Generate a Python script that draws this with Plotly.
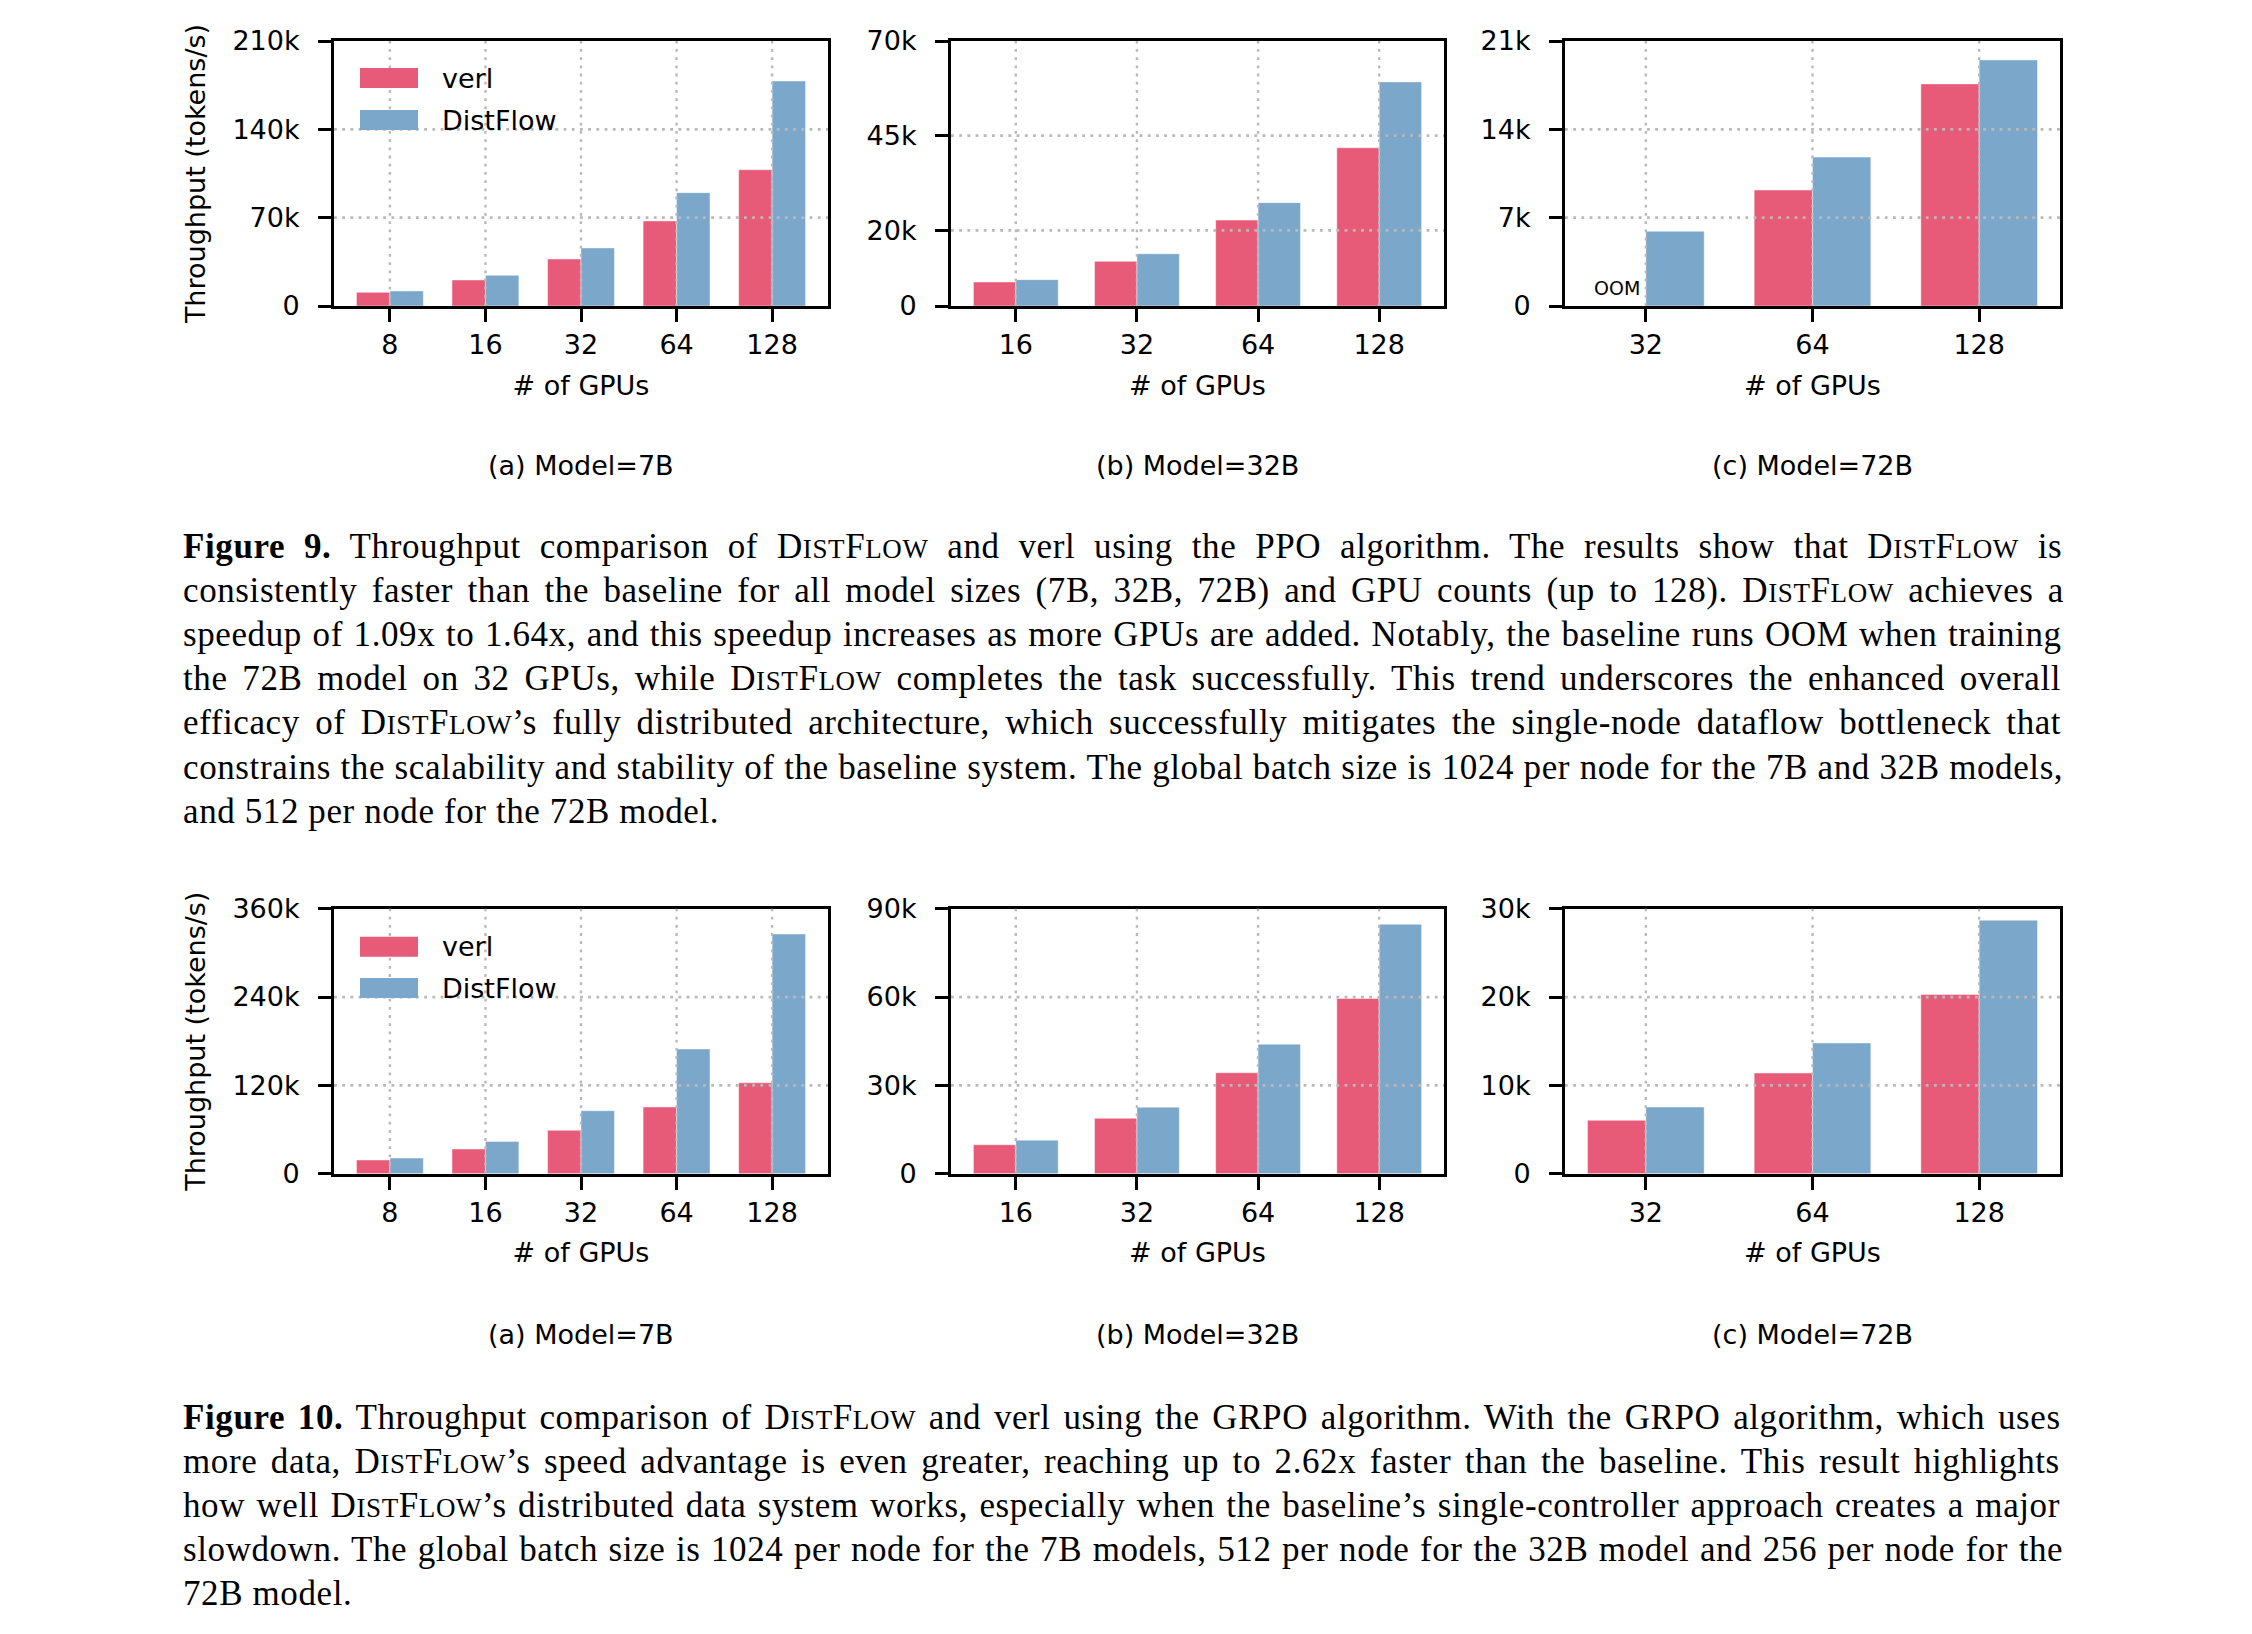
import plotly.graph_objects as go
from plotly.subplots import make_subplots

W, H = 2252, 1634
OFF = 8                      # browser body margin
FW, FH = W - 2 * OFF, H - 2 * OFF

# ---------------- data ----------------
gpus_7b = ["8", "16", "32", "64", "128"]
gpus_32b = ["16", "32", "64", "128"]
gpus_72b = ["32", "64", "128"]

ppo_7b_verl = [10800, 20600, 37200, 67400, 108000]
ppo_7b_distflow = [11900, 24300, 46000, 89800, 178300]
ppo_32b_verl = [6340, 11800, 22700, 41800]
ppo_32b_distflow = [6960, 13800, 27300, 59200]
ppo_72b_verl = [None, 9190, 17600]          # verl runs OOM on 32 GPUs
ppo_72b_distflow = [5920, 11800, 19500]

grpo_7b_verl = [18600, 33500, 58900, 90600, 123600]
grpo_7b_distflow = [21300, 43900, 85600, 169400, 325600]
grpo_32b_verl = [9850, 18800, 34300, 59500]
grpo_32b_distflow = [11400, 22600, 44000, 84700]
grpo_72b_verl = [6040, 11400, 20300]
grpo_72b_distflow = [7550, 14800, 28700]

ppo_7b_ticks = [0, 70000, 140000, 210000]
ppo_7b_ticktext = ["0", "70k", "140k", "210k"]
ppo_32b_ticks = [0, 20000, 45000, 70000]
ppo_32b_ticktext = ["0", "20k", "45k", "70k"]
ppo_72b_ticks = [0, 7000, 14000, 21000]
ppo_72b_ticktext = ["0", "7k", "14k", "21k"]
grpo_7b_ticks = [0, 120000, 240000, 360000]
grpo_7b_ticktext = ["0", "120k", "240k", "360k"]
grpo_32b_ticks = [0, 30000, 60000, 90000]
grpo_32b_ticktext = ["0", "30k", "60k", "90k"]
grpo_72b_ticks = [0, 10000, 20000, 30000]
grpo_72b_ticktext = ["0", "10k", "20k", "30k"]

subcaptions = ["(a) Model=7B", "(b) Model=32B", "(c) Model=72B"]
series_names = ["verl", "DistFlow"]

fig9_lines = [
    "**Figure 9.** Throughput comparison of DistFlow and verl using the PPO algorithm. The results show that DistFlow is",
    "consistently faster than the baseline for all model sizes (7B, 32B, 72B) and GPU counts (up to 128). DistFlow achieves a",
    "speedup of 1.09x to 1.64x, and this speedup increases as more GPUs are added. Notably, the baseline runs OOM when training",
    "the 72B model on 32 GPUs, while DistFlow completes the task successfully. This trend underscores the enhanced overall",
    "efficacy of DistFlow\u2019s fully distributed architecture, which successfully mitigates the single-node dataflow bottleneck that",
    "constrains the scalability and stability of the baseline system. The global batch size is 1024 per node for the 7B and 32B models,",
    "and 512 per node for the 72B model.",
]
fig10_lines = [
    "**Figure 10.** Throughput comparison of DistFlow and verl using the GRPO algorithm. With the GRPO algorithm, which uses",
    "more data, DistFlow\u2019s speed advantage is even greater, reaching up to 2.62x faster than the baseline. This result highlights",
    "how well DistFlow\u2019s distributed data system works, especially when the baseline\u2019s single-controller approach creates a major",
    "slowdown. The global batch size is 1024 per node for the 7B models, 512 per node for the 32B model and 256 per node for the",
    "72B model.",
]

# ---------------- style ----------------
VERL = "#E75A78"
DIST = "#7BA7CB"
GRID = "#b9b9b9"
GRID_DASH = "2.8px,5.4px"
SANS = "DejaVu Sans"
SERIF = "Liberation Serif"
FS = 27


def px(x):
    return (x - OFF) / FW


def py(y):
    return 1 - (y - OFF) / FH


panels = [
    (1, 1, gpus_7b, ppo_7b_verl, ppo_7b_distflow, ppo_7b_ticks, ppo_7b_ticktext),
    (1, 2, gpus_32b, ppo_32b_verl, ppo_32b_distflow, ppo_32b_ticks, ppo_32b_ticktext),
    (1, 3, gpus_72b, ppo_72b_verl, ppo_72b_distflow, ppo_72b_ticks, ppo_72b_ticktext),
    (2, 1, gpus_7b, grpo_7b_verl, grpo_7b_distflow, grpo_7b_ticks, grpo_7b_ticktext),
    (2, 2, gpus_32b, grpo_32b_verl, grpo_32b_distflow, grpo_32b_ticks, grpo_32b_ticktext),
    (2, 3, gpus_72b, grpo_72b_verl, grpo_72b_distflow, grpo_72b_ticks, grpo_72b_ticktext),
]

x_dom_px = [(334, 828), (951, 1444), (1565, 2060)]
y_dom_px = [(41, 306), (908.7, 1173.7)]

fig = make_subplots(rows=2, cols=3)
shapes = []
annotations = []

for (r, c, gpus, v, d, tv, tt) in panels:
    for name, vals, col in ((series_names[0], v, VERL), (series_names[1], d, DIST)):
        fig.add_trace(go.Bar(x=gpus, y=vals, name=name, showlegend=False,
                             marker=dict(color=col, line=dict(width=1, color="rgba(255,255,255,0.45)"))),
                      row=r, col=c)
    n = (r - 1) * 3 + c
    xs = "xaxis" if n == 1 else f"xaxis{n}"
    ys = "yaxis" if n == 1 else f"yaxis{n}"
    xr = "x" if n == 1 else f"x{n}"
    yr = "y" if n == 1 else f"y{n}"
    ncat = len(gpus)
    marg = 0.05 * (ncat - 1 + 0.7)
    x0, x1 = x_dom_px[c - 1]
    yt, yb = y_dom_px[r - 1]
    axis_common = dict(showline=True, linecolor="black", linewidth=3, mirror=True,
                       ticks="outside", ticklen=13, tickwidth=3, tickcolor="black",
                       showgrid=False, layer="above traces",
                       tickfont=dict(family=SANS, size=FS, color="black"),
                       zeroline=False, automargin=False)
    fig.layout[xs].update(domain=[px(x0), px(x1)], type="category",
                          range=[-0.35 - marg, ncat - 1 + 0.35 + marg],
                          ticklabelstandoff=0,
                          title=dict(text="# of GPUs", font=dict(family=SANS, size=FS, color="black"), standoff=17),
                          **axis_common)
    fig.layout[ys].update(domain=[py(yb), py(yt)], range=[0, tv[-1]],
                          tickmode="array", tickvals=tv, ticktext=tt, ticklabelstandoff=13,
                          **axis_common)
    if c == 1:
        fig.layout[ys].update(title=dict(text="Throughput (tokens/s)",
                                         font=dict(family=SANS, size=FS, color="black"), standoff=19))
    # dotted grid drawn above the bars (as in the reference)
    for t in tv[1:-1]:
        shapes.append(dict(type="line", xref=f"{xr} domain", yref=yr, x0=0, x1=1, y0=t, y1=t,
                           layer="above", line=dict(color=GRID, width=2.8, dash=GRID_DASH)))
    for gi in range(ncat):
        shapes.append(dict(type="line", xref=xr, yref=f"{yr} domain", x0=gi, x1=gi, y0=0, y1=1,
                           layer="above", line=dict(color=GRID, width=2.4, dash=GRID_DASH)))

# subcaptions
for r, ycen in ((1, 465), (2, 1334)):
    for c in range(3):
        x0, x1 = x_dom_px[c]
        annotations.append(dict(text=subcaptions[c], x=px((x0 + x1) / 2), y=py(ycen),
                                xref="paper", yref="paper", showarrow=False,
                                xanchor="center", yanchor="middle",
                                font=dict(family=SANS, size=FS, color="black")))

# manual legends
for (p_verl, p_dist) in ((68, 110), (936.7, 978)):
    for ptop, col, name in ((p_verl, VERL, series_names[0]), (p_dist, DIST, series_names[1])):
        shapes.append(dict(type="rect", xref="paper", yref="paper",
                           x0=px(360), x1=px(418), y0=py(ptop + 20), y1=py(ptop),
                           fillcolor=col, line=dict(width=0)))
        annotations.append(dict(text=name, x=px(440), y=py(ptop + 10), xref="paper", yref="paper",
                                showarrow=False, xanchor="left", yanchor="middle",
                                font=dict(family=SANS, size=FS, color="black")))

# OOM marker
annotations.append(dict(text="OOM", x=-0.175, y=0, xref="x3", yref="y3", showarrow=False,
                        xanchor="center", yanchor="bottom", yshift=5,
                        font=dict(family=SANS, size=19, color="black")))

# ---------------- captions (justified via word-spacing) ----------------
REG = {" ": 250, "!": 333, "(": 333, ")": 333, ",": 250, "-": 333, ".": 250, "/": 278, ":": 278,
       "=": 564, "\u2019": 333,
       "A": 722, "B": 667, "C": 667, "D": 722, "E": 611, "F": 556, "G": 722, "H": 722, "I": 333,
       "J": 389, "K": 722, "L": 611, "M": 889, "N": 722, "O": 722, "P": 556, "Q": 722, "R": 667,
       "S": 556, "T": 611, "U": 722, "V": 722, "W": 944, "X": 722, "Y": 722, "Z": 611,
       "a": 444, "b": 500, "c": 444, "d": 500, "e": 444, "f": 333, "g": 500, "h": 500, "i": 278,
       "j": 278, "k": 500, "l": 278, "m": 778, "n": 500, "o": 500, "p": 500, "q": 500, "r": 333,
       "s": 389, "t": 278, "u": 500, "v": 500, "w": 722, "x": 500, "y": 500, "z": 444}
for dch in "0123456789":
    REG[dch] = 500
BOLD = dict(REG)
BOLD.update({"F": 611, "i": 278, "g": 500, "u": 556, "r": 444, "e": 444})

CAP_FS = 35
SC_FS = 27
LS = 0.6           # letter spacing (px)
TARGET = 1881
CAP_X = 182


def seg_width(text, size, bold=False):
    tbl = BOLD if bold else REG
    return sum(tbl.get(ch, 500) for ch in text) * size / 1000.0 + LS * len(text)


def build_line(line, justify):
    segs = []
    if line.startswith("**"):
        end = line.index("**", 2)
        segs.append((line[2:end], CAP_FS, True))
        line = line[end + 2:]
    parts = line.split("DistFlow")
    for k, part in enumerate(parts):
        if k > 0:
            segs += [("D", CAP_FS, False), ("IST", SC_FS, False), ("F", CAP_FS, False), ("LOW", SC_FS, False)]
        if part:
            segs.append((part, CAP_FS, False))
    natural = sum(seg_width(*s) for s in segs)
    nsp = sum(s[0].count(" ") for s in segs)
    ws = (TARGET - natural) / nsp if (justify and nsp) else 0.0
    html = ""
    for t, sz, b in segs:
        style = f"font-size:{sz}px;letter-spacing:{LS}px;word-spacing:{ws:.2f}px" + (";font-weight:bold" if b else "")
        html += f'<span style="{style}">{t}</span>'
    return html


for lines, y_first, step in ((fig9_lines, 546, 44.2), (fig10_lines, 1417, 44.2)):
    for i, ln in enumerate(lines):
        annotations.append(dict(text=build_line(ln, i < len(lines) - 1),
                                x=px(CAP_X), y=py(y_first + i * step),
                                xref="paper", yref="paper", showarrow=False,
                                xanchor="left", yanchor="middle", align="left", borderpad=0,
                                font=dict(family=SERIF, size=CAP_FS, color="black")))

fig.update_layout(width=FW, height=FH, margin=dict(l=0, r=0, t=0, b=0),
                  paper_bgcolor="white", plot_bgcolor="white",
                  barmode="group", bargap=0.3, bargroupgap=0,
                  font=dict(family=SANS, size=FS, color="black"),
                  showlegend=False, annotations=annotations, shapes=shapes)

fig.write_html("out.html")
